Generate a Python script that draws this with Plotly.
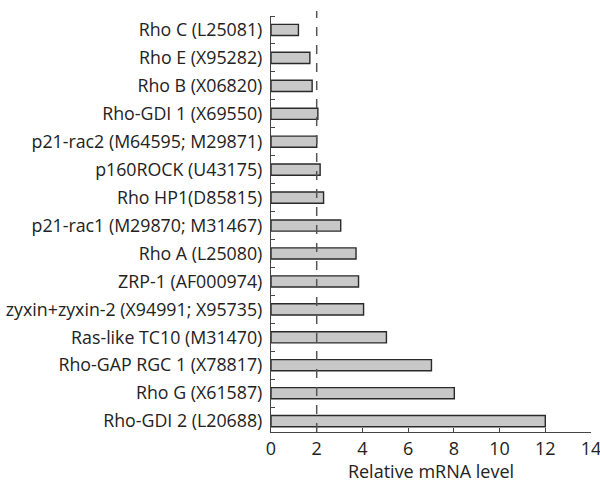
import plotly.graph_objects as go

genes = [
    "Rho C (L25081)",
    "Rho E (X95282)",
    "Rho B (X06820)",
    "Rho-GDI 1 (X69550)",
    "p21-rac2 (M64595; M29871)",
    "p160ROCK (U43175)",
    "Rho HP1(D85815)",
    "p21-rac1 (M29870; M31467)",
    "Rho A (L25080)",
    "ZRP-1 (AF000974)",
    "zyxin+zyxin-2 (X94991; X95735)",
    "Ras-like TC10 (M31470)",
    "Rho-GAP RGC 1 (X78817)",
    "Rho G (X61587)",
    "Rho-GDI 2 (L20688)",
]
levels = [1.2, 1.7, 1.8, 2.05, 2.0, 2.15, 2.3, 3.05, 3.72, 3.83, 4.05, 5.05, 7.02, 8.02, 12.0]
x_ticks = [0, 2, 4, 6, 8, 10, 12, 14]
threshold = 2

n = len(genes)
ypos = [n - 1 - i for i in range(n)]

fig = go.Figure()
fig.add_trace(go.Bar(
    x=levels, y=ypos, orientation="h", width=0.4,
    marker=dict(color="#c8c8c8", line=dict(color="#2a2a2a", width=1.4)),
    showlegend=False, cliponaxis=False,
))

fig.add_shape(type="line", xref="x", yref="paper", x0=threshold, x1=threshold,
              y0=0, y1=1.012, line=dict(color="#555555", width=1.5, dash="dash"))

fig.update_layout(
    width=600, height=483,
    margin=dict(l=271, r=9, t=16, b=51, autoexpand=False),
    plot_bgcolor="white", paper_bgcolor="white",
    font=dict(family="Open Sans, sans-serif", size=17.8, color="#222222"),
    xaxis=dict(range=[0, 14], tickvals=x_ticks, ticks="inside", ticklen=4,
               tickcolor="#444", showline=True, linecolor="#444", linewidth=1.2,
               showgrid=False, zeroline=False, tickfont=dict(size=18), automargin=False,
               ticklabeloverflow="allow",
               title=dict(text="Relative mRNA level", font=dict(size=18), standoff=8)),
    yaxis=dict(range=[-0.39, 14.5], tickvals=ypos, ticktext=genes, ticks="",
               showline=True, linecolor="#444", linewidth=1.2, showgrid=False,
               zeroline=False, ticklabelstandoff=4, automargin=False),
)

fig.update_yaxes(minor=dict(tickvals=[k + 0.5 for k in range(n)], ticks="inside",
                            ticklen=4, tickcolor="#444", showgrid=False))

fig.write_html("out.html", config={"displayModeBar": False},
               post_script="document.body.style.margin='0';document.body.style.padding='0';")
